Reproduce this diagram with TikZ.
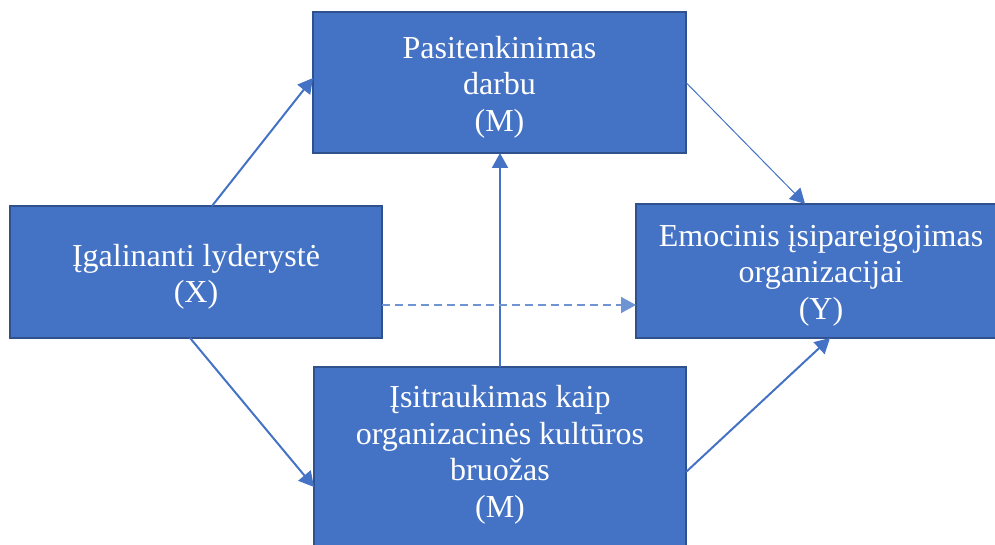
\documentclass[tikz,border=0pt]{standalone}
\usepackage{fontspec}
\setmainfont{Liberation Serif}
\usetikzlibrary{arrows.meta,calc}
\definecolor{boxfill}{HTML}{4472C4}
\definecolor{boxline}{HTML}{2F528F}
\definecolor{arrowblue}{HTML}{4472C4}
\definecolor{dashblue}{HTML}{6F94D4}
\begin{document}
\begin{tikzpicture}[x=1pt,y=-1pt,
  box/.style={rectangle, fill=boxfill, draw=boxline, line width=1.6pt,
    inner sep=0pt, outer sep=0pt},
  boxtext/.style={text=white, align=center, inner sep=0pt,
    font=\fontsize{32}{36.5}\selectfont},
  tip/.style={-{Triangle[length=15pt,width=16pt]}},
  link/.style={draw=arrowblue, line width=2pt, tip},
  thinlink/.style={draw=arrowblue, line width=1pt, tip},
  dashlink/.style={draw=dashblue, line width=1.6pt, dash pattern=on 8pt off 5pt, tip}]
\useasboundingbox (0,0) rectangle (995,545);

% the four variable boxes
\node[box, minimum width=373pt, minimum height=141pt] (sat) at (499.5,82.5) {};
\node[box, minimum width=372pt, minimum height=132pt] (lead) at (196,272) {};
\node[box, minimum width=370pt, minimum height=134pt] (emo) at (821,271) {};
\node[box, minimum width=372pt, minimum height=183pt] (bot) at (500,458.5) {};

% their labels
\node[boxtext] (satlabel) at (499.5,87) {Pasitenkinimas\\darbu\\(M)};
\node[boxtext] (leadlabel) at (196,277) {Įgalinanti lyderystė\\(X)};
\node[boxtext] (emolabel) at (821,275.5) {Emocinis įsipareigojimas\\organizacijai\\(Y)};
\node[boxtext] (botlabel) at (500,455)
  {Įsitraukimas kaip\\organizacinės kultūros\\bruožas\\(M)};

% paths between the variables
\draw[link] ($(lead.north west)!0.543!(lead.north east)$)
  -- ($(sat.north west)!0.468!(sat.south west)$);
\draw[thinlink] (sat.east)
  -- ($(emo.north west)!0.457!(emo.north east)$);
\draw[link] ($(lead.south west)!0.484!(lead.south east)$)
  -- ([yshift=-120pt]bot.north west);
\draw[link] ([yshift=-105pt]bot.north east)
  -- ([xshift=194pt]emo.south west);
\draw[link] (bot.north) -- (bot.north |- sat.south);
\draw[dashlink] ([yshift=-33pt]lead.east) -- ([yshift=-33pt]lead.east -| emo.west);
\end{tikzpicture}
\end{document}
